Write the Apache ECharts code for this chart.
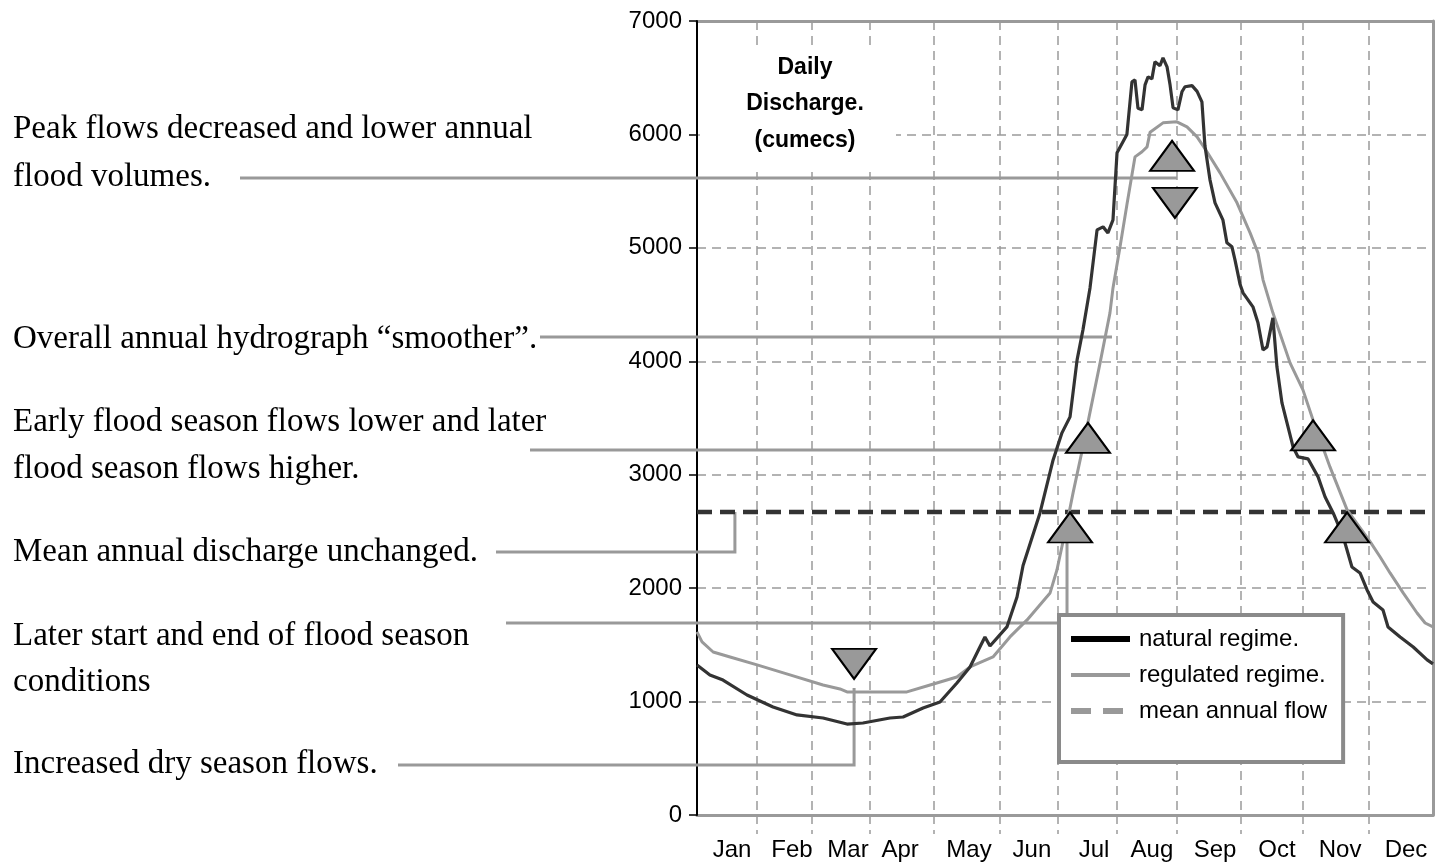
<!DOCTYPE html>
<html>
<head>
<meta charset="utf-8">
<script src="https://cdn.jsdelivr.net/npm/echarts@6/dist/echarts.min.js"></script>
<style>
html,body{margin:0;padding:0;background:#fff;}
#chart{width:1437px;height:867px;}
</style>
</head>
<body>
<div id="chart"></div>
<script>
// ---------- data ----------
const months = ['Jan','Feb','Mar','Apr','May','Jun','Jul','Aug','Sep','Oct','Nov','Dec'];
// month boundaries and label centres (day of year)
const monthEdges = [29.8, 57.0, 85.8, 117.5, 150.3, 179.0, 208.3, 238.0, 269.8, 300.5, 333.3];
const monthLabelDays = [17.4, 47.1, 74.9, 100.7, 134.9, 166.1, 196.9, 225.6, 256.9, 287.6, 318.9, 351.6];
const meanAnnualFlow = 2672;

// [day of year, discharge cumecs]
const naturalRegime = [[0,1323],[6.4,1235],[12.9,1190],[24.8,1058],[37.7,952],[49.6,882],[62.5,855],[74.4,802],[82.3,811],[95.7,855],[102.2,864],[112.1,944],[120.5,996],[128.9,1164],[135.4,1305],[140.3,1481],[142.8,1570],[145.3,1490],[153.7,1658],[158.7,1922],[161.7,2200],[170.1,2663],[176.6,3130],[181.0,3369],[185.0,3510],[188.5,4012],[191.4,4277],[194.9,4647],[198.4,5159],[201.4,5185],[203.8,5132],[206.3,5247],[208.3,5838],[213.2,6000],[215.7,6464],[217.2,6481],[218.7,6230],[220.7,6217],[222.2,6437],[223.7,6508],[225.6,6490],[227.1,6640],[229.6,6605],[231.1,6675],[233.1,6596],[234.6,6437],[236.1,6234],[238.5,6217],[240.5,6376],[242.0,6420],[245.5,6430],[248.0,6380],[250.4,6287],[251.9,5900],[254.4,5600],[256.9,5397],[260.8,5247],[262.8,5044],[265.3,5009],[266.8,4894],[269.3,4680],[270.8,4603],[275.7,4480],[278.2,4339],[280.7,4100],[282.7,4127],[285.6,4383],[287.6,3951],[290.1,3633],[292.6,3457],[295.6,3245],[298.1,3157],[303.0,3140],[308.0,2981],[311.5,2804],[315.5,2663],[320.5,2451],[324.8,2187],[328.8,2134],[332.3,1984],[335.3,1878],[340.2,1808],[342.7,1658],[348.7,1570],[355.2,1481],[362.1,1367],[365,1332]];

const regulatedRegime = [[0,1614],[2.5,1526],[8.0,1437],[16.4,1393],[29.8,1323],[46.1,1235],[62.5,1146],[70.9,1111],[74.4,1085],[89.3,1085],[104.1,1085],[115.6,1146],[128.9,1217],[135.4,1305],[146.8,1393],[155.2,1570],[163.7,1720],[175.1,1958],[178.5,2160],[183.5,2575],[186.5,2840],[191.4,3245],[199.9,3986],[204.8,4427],[206.3,4647],[209.8,5009],[213.2,5380],[217.2,5802],[220.7,5847],[223.2,5890],[224.7,6020],[231.1,6102],[238.0,6111],[243.0,6067],[248.0,5979],[252.9,5847],[259.4,5661],[267.8,5397],[274.3,5132],[278.2,4956],[280.7,4718],[285.6,4427],[294.1,3986],[300.5,3748],[305.5,3483],[313.9,3069],[322.4,2690],[333.8,2410],[338.8,2275],[343.7,2134],[350.2,1958],[357.1,1781],[361.1,1693],[365,1658]];

// triangle markers: [day, value, direction]
const markers = [[77.9,1332,'down'],[235.6,5811,'up'],[237.0,5397,'down'],[193.9,3325,'up'],[185.0,2535,'up'],[305.5,3347,'up'],[322.4,2535,'up']];

// annotation texts and the data points their leader lines run to
const annotations = [
  {lines:['Peak flows decreased and lower annual','flood volumes.'], textY:[129,177], startX:240, path:[[238.0,5616]]},
  {lines:['Overall annual hydrograph \u201csmoother\u201d.'], textY:[339], startX:540, path:[[205.8,4214]]},
  {lines:['Early flood season flows lower and later','flood season flows higher.'], textY:[422,469], startX:530, path:[[184.0,3218]]},
  {lines:['Mean annual discharge unchanged.'], textY:[552], startX:496, path:[[18.8,2319],[18.8,meanAnnualFlow]]},
  {lines:['Later start and end of flood season','conditions'], textY:[636,682], startX:506, path:[[183.5,1693],[183.5,2468]]},
  {lines:['Increased dry season flows.'], textY:[764], startX:398, path:[[77.9,441],[77.9,1120]]}
];

// ---------- fonts ----------
function hasFont(name){
  const c = document.createElement('canvas').getContext('2d');
  c.font = '72px monospace';
  const a = c.measureText('mmmwwwiiilABC').width;
  c.font = '72px ' + name + ', monospace';
  const b = c.measureText('mmmwwwiiilABC').width;
  return Math.abs(a-b) > 0.5;
}
const narrow = hasFont("'Liberation Sans Narrow'");
const SANS = narrow ? "'Liberation Sans Narrow'" : "'Liberation Sans', Arial";
const SANS_SIZE = narrow ? 28 : 24;
const SERIF = "'Liberation Serif', 'Times New Roman', serif";

const GRID_GRAY = '#9a9a9a';
const chart = echarts.init(document.getElementById('chart'), null, {renderer:'canvas'});

const noSymbol = {opacity:0, color:'transparent', borderWidth:0};

const option = {
  animation:false,
  backgroundColor:'#fff',
  grid:{left:697, right:4, top:21, bottom:52, containLabel:false},
  xAxis:[{
    type:'value', min:0, max:365, position:'bottom',
    axisLine:{show:true, onZero:false, lineStyle:{color:GRID_GRAY, width:3}},
    axisTick:{show:true, customValues:monthEdges, length:19, inside:false,
      lineStyle:{color:GRID_GRAY, width:1.5, type:[9,6]}},
    splitLine:{show:true, lineStyle:{color:GRID_GRAY, width:1.5, type:[9,6]}},
    axisLabel:{show:true, customValues:monthLabelDays, margin:23, color:'#000',
      fontFamily:SANS, fontSize:SANS_SIZE,
      formatter:function(v){
        let best=0, bd=1e9;
        monthLabelDays.forEach(function(d,i){ if(Math.abs(d-v)<bd){bd=Math.abs(d-v);best=i;} });
        return months[best];
      }}
  },{
    type:'value', min:0, max:365, position:'top',
    axisLine:{show:true, onZero:false, lineStyle:{color:GRID_GRAY, width:3}},
    axisTick:{show:false}, axisLabel:{show:false}, splitLine:{show:false}
  }],
  yAxis:[{
    type:'value', min:0, max:7000, interval:1000, position:'left', z:1,
    axisLine:{show:true, onZero:false, lineStyle:{color:'#000', width:2}},
    axisTick:{show:true, length:8, lineStyle:{color:'#000', width:1.5}},
    axisLabel:{color:'#000', fontFamily:SANS, fontSize:SANS_SIZE, margin:15,
      formatter:function(v){ return String(v); }},
    splitLine:{show:true, lineStyle:{color:GRID_GRAY, width:1.5, type:[9,6]}}
  },{
    type:'value', min:0, max:7000, position:'right',
    axisLine:{show:true, onZero:false, lineStyle:{color:GRID_GRAY, width:3}},
    axisTick:{show:false}, axisLabel:{show:false}, splitLine:{show:false}
  }],
  legend:{
    orient:'vertical', left:1059, top:615, z:10,
    backgroundColor:'#fff', borderColor:'#8a8a8a', borderWidth:4, borderRadius:0,
    padding:[6,16,33,9], itemGap:0, itemWidth:59, itemHeight:14,
    selectedMode:false,
    itemStyle:noSymbol,
    textStyle:{fontFamily:SANS, fontSize:SANS_SIZE, color:'#000', lineHeight:36, padding:[0,0,0,4]},
    data:[
      {name:'natural regime.', itemStyle:noSymbol, lineStyle:{color:'#000', width:6}},
      {name:'regulated regime.', itemStyle:noSymbol, lineStyle:{color:'#999', width:4}},
      {name:'mean annual flow', itemStyle:noSymbol, lineStyle:{color:'#999', width:6, type:[20,12]}}
    ]
  },
  series:[
    {name:'mean annual flow', type:'line', symbol:'none', z:2,
      data:[[0,meanAnnualFlow],[365,meanAnnualFlow]],
      lineStyle:{color:'#333', width:4.5, type:[15,8]}, itemStyle:{color:'#333'}},
    {name:'regulated regime.', type:'line', symbol:'none', z:3,
      data:regulatedRegime,
      lineStyle:{color:'#999', width:3}, itemStyle:{color:'#999'},
      markPoint:{
        z:6, silent:true,
        label:{show:false},
        data:markers.map(function(m){
          return {coord:[m[0],m[1]], symbol:'triangle', symbolSize:[44,30],
            symbolRotate: m[2]==='down' ? 180 : 0,
            itemStyle:{color:'#999', borderColor:'#000', borderWidth:2}};
        })
      }},
    {name:'natural regime.', type:'line', symbol:'none', z:4,
      data:naturalRegime,
      lineStyle:{color:'#333', width:3.2}, itemStyle:{color:'#333'}}
  ]
};
chart.setOption(option);

// ---------- annotations (text + leader lines) ----------
function toPx(p){ return chart.convertToPixel({seriesIndex:1}, p); }
const graphics = [];
// white box behind the axis title
graphics.push({type:'rect', z:1, shape:{x:700, y:45, width:196, height:127}, style:{fill:'#fff'}});
const titleLines = [['Daily',68],['Discharge.',104],['(cumecs)',141]];
titleLines.forEach(function(t){
  graphics.push({type:'text', z:5, x:805, y:t[1],
    style:{text:t[0], font:'bold 23px "Liberation Sans", Arial', fill:'#000', align:'center', verticalAlign:'middle', textAlign:'center', textVerticalAlign:'middle'}});
});

annotations.forEach(function(a){
  a.lines.forEach(function(t,i){
    graphics.push({type:'text', z:5, x:13, y:a.textY[i],
      style:{text:t, font:'33px ' + SERIF, fill:'#000', align:'left', verticalAlign:'middle', textAlign:'left', textVerticalAlign:'middle'}});
  });
  const pts = a.path.map(toPx);
  const all = [[a.startX, pts[0][1]]].concat(pts);
  graphics.push({type:'polyline', z:1.5, shape:{points:all},
    style:{stroke:'#999', lineWidth:3, fill:null}});
});
chart.setOption({graphic:graphics});
</script>
</body>
</html>
